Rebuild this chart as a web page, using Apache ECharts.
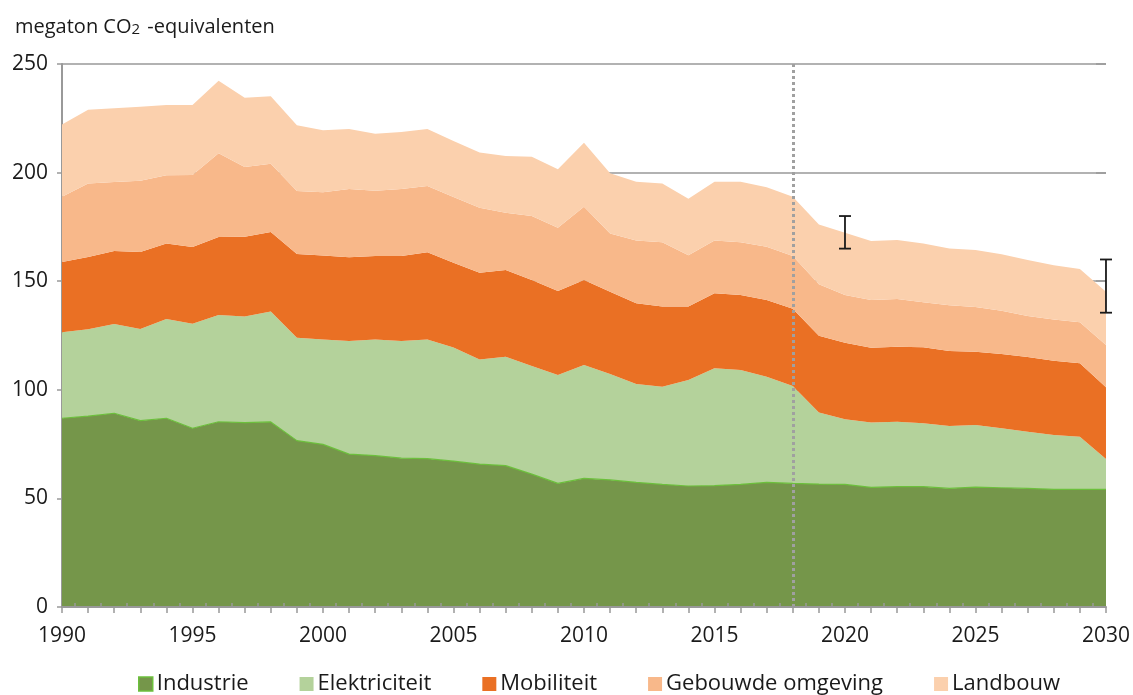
<!DOCTYPE html>
<html>
<head>
<meta charset="utf-8">
<script src="https://cdn.jsdelivr.net/npm/echarts@6/dist/echarts.min.js"></script>
<style>
    html, body { margin: 0; padding: 0; background: #fff; }
    #main { width: 1133px; height: 695px; }
</style>
</head>
<body>
<div id="main"></div>
<script>
// jaren 1990 - 2030
const years = [];
for (let y = 1990; y <= 2030; y++) years.push(String(y));
const halfYears = [];
for (let y = 1990; y <= 2030; y += 0.5) halfYears.push(String(y));

const industrie = [86.9, 87.9, 89.2, 85.8, 86.9, 82.3, 85.3, 84.9, 85.2, 76.6,
    74.9, 70.4, 69.7, 68.5, 68.3, 67.2, 65.8, 65.1, 61.2, 56.9,
    59.2, 58.5, 57.4, 56.5, 55.7, 55.9, 56.5, 57.4, 56.9, 56.6,
    56.5, 55.1, 55.4, 55.4, 54.6, 55.2, 54.9, 54.6, 54.2, 54.2, 54.2];
const elektriciteit = [39.6, 40.0, 41.1, 42.2, 45.7, 48.1, 49.1, 48.8, 50.8, 47.4,
    48.3, 52.1, 53.5, 54.0, 54.9, 52.3, 48.2, 50.1, 49.8, 49.9,
    52.2, 48.8, 45.3, 44.9, 48.8, 54.0, 52.6, 48.6, 44.9, 32.9,
    29.9, 29.8, 29.9, 29.2, 28.7, 28.6, 27.4, 26.1, 25.0, 24.2, 13.9];
const mobiliteit = [32.3, 33.2, 33.6, 35.4, 34.7, 35.3, 35.9, 36.8, 36.7, 38.5,
    38.6, 38.5, 38.4, 39.1, 40.1, 39.0, 39.9, 40.0, 39.6, 38.7,
    39.2, 37.9, 37.1, 36.9, 33.8, 34.5, 34.5, 35.3, 35.5, 35.4,
    35.3, 34.5, 34.5, 35.0, 34.6, 33.7, 34.2, 34.4, 34.2, 33.8, 33.1];
const gebouwd = [30.1, 33.9, 31.8, 32.9, 31.5, 33.2, 38.6, 32.1, 31.4, 29.0,
    29.1, 31.4, 30.1, 30.8, 30.5, 30.3, 29.9, 26.3, 29.4, 29.1,
    33.7, 26.8, 28.9, 29.6, 23.6, 24.3, 24.3, 24.6, 24.3, 23.7,
    21.9, 21.9, 22.0, 20.7, 21.0, 20.6, 19.9, 18.9, 19.0, 18.9, 19.4];
const landbouw = [33.3, 33.9, 33.9, 34.0, 32.3, 32.2, 33.4, 31.9, 31.0, 30.3,
    28.6, 27.7, 26.2, 26.3, 26.3, 25.7, 25.4, 26.1, 27.3, 26.9,
    29.5, 27.7, 27.1, 27.1, 26.1, 27.1, 27.9, 27.3, 27.3, 27.5,
    28.7, 27.2, 27.2, 27.1, 26.1, 26.3, 26.0, 25.8, 24.9, 24.5, 24.6];

// bandbreedte (jaar, onder, boven)
const errorBars = [["2020", 165, 180], ["2030", 135.5, 160]];
const splitYear = "2018";

const font = "'Open Sans', 'Noto Sans', sans-serif";
const grey = "#999999";

let chart = echarts.init(document.getElementById("main"));

function area(name, data, color, line) {
    return {
        name: name,
        type: "line",
        stack: "totaal",
        symbol: "none",
        data: data,
        itemStyle: { color: color },
        lineStyle: line || { width: 0 },
        areaStyle: { color: color, opacity: 1 },
        z: 2
    };
}

const option = {
    animation: false,
    textStyle: { fontFamily: font },
    title: {
        text: "{a|megaton CO}{s|2}{a| -equivalenten}",
        left: 10,
        top: 2,
        textStyle: {
            rich: {
                a: { fontSize: 20, fontWeight: "normal", color: "#1a1a1a", fontFamily: font, lineHeight: 30, verticalAlign: "bottom" },
                s: { fontSize: 15, fontWeight: "normal", color: "#1a1a1a", fontFamily: font, lineHeight: 27, verticalAlign: "bottom", padding: [0, 2, 0, 0] }
            }
        }
    },
    legend: {
        top: 668,
        left: 133,
        icon: "rect",
        itemWidth: 14,
        itemHeight: 14,
        itemGap: 51,
        textStyle: { fontSize: 22, color: "#1a1a1a", fontFamily: font, padding: [0, 0, 0, -1] },
        data: [
            { name: "Industrie", itemStyle: { borderColor: "#6cc03c", borderWidth: 1.5 } },
            "Elektriciteit", "Mobiliteit", "Gebouwde omgeving", "Landbouw"
        ]
    },
    grid: {
        left: 62,
        right: 27,
        top: 64,
        bottom: 88
    },
    xAxis: [
        {
            type: "category",
            data: years,
            boundaryGap: false,
            axisLine: { lineStyle: { color: grey, width: 2 } },
            axisTick: { interval: 0, length: 6, lineStyle: { color: grey, width: 1.5 } },
            axisLabel: {
                interval: function (i) { return i % 5 === 0; },
                fontSize: 21,
                color: "#1a1a1a",
                margin: 19
            },
            z: 5
        },
        {
            type: "category",
            data: halfYears,
            boundaryGap: false,
            position: "bottom",
            axisLine: { show: false },
            axisTick: {
                inside: true,
                length: 4,
                interval: function (i) { return i % 2 === 1; },
                lineStyle: { color: grey, width: 1.5 }
            },
            axisLabel: { show: false },
            z: 5
        }
    ],
    yAxis: [
        {
            type: "value",
            min: 0,
            max: 250,
            interval: 50,
            axisLine: { show: true, lineStyle: { color: grey, width: 2 } },
            axisTick: { show: true, length: 5, lineStyle: { color: grey, width: 1.5 } },
            axisLabel: { fontSize: 21, color: "#1a1a1a", margin: 14 },
            splitLine: { lineStyle: { color: grey, width: 1.5 } }
        },
        {
            type: "value",
            min: 0,
            max: 250,
            interval: 50,
            position: "right",
            axisLine: { show: false },
            axisTick: { show: true, inside: true, length: 10, lineStyle: { color: grey, width: 1.5 } },
            axisLabel: { show: false },
            splitLine: { show: false }
        }
    ],
    series: [
        area("Industrie", industrie, "#75964a", { width: 1.2, color: "#6cc03c" }),
        area("Elektriciteit", elektriciteit, "#b4d29b"),
        area("Mobiliteit", mobiliteit, "#ea7024"),
        area("Gebouwde omgeving", gebouwd, "#f8b88a"),
        area("Landbouw", landbouw, "#fbd0ad"),
        {
            name: "bandbreedte",
            type: "custom",
            z: 10,
            data: errorBars,
            renderItem: function (params, api) {
                const lo = api.coord([api.value(0), api.value(1)]);
                const hi = api.coord([api.value(0), api.value(2)]);
                const w = 6;
                const style = { stroke: "#1a1a1a", lineWidth: 1.8 };
                return {
                    type: "group",
                    children: [
                        { type: "line", shape: { x1: lo[0], y1: lo[1], x2: hi[0], y2: hi[1] }, style: style },
                        { type: "line", shape: { x1: lo[0] - w, y1: lo[1], x2: lo[0] + w, y2: lo[1] }, style: style },
                        { type: "line", shape: { x1: hi[0] - w, y1: hi[1], x2: hi[0] + w, y2: hi[1] }, style: style }
                    ]
                };
            },
            markLine: {
                silent: true,
                symbol: "none",
                label: { show: false },
                lineStyle: { color: "#a0a0a0", width: 3, type: [3, 3] },
                data: [{ xAxis: splitYear }]
            }
        }
    ]
};
chart.setOption(option);
</script>
</body>
</html>
